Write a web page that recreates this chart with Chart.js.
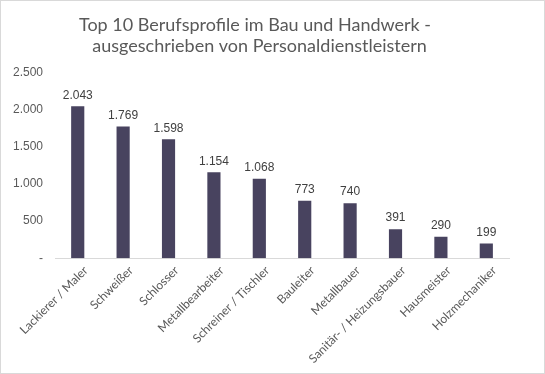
<!DOCTYPE html>
<html>
<head>
<meta charset="utf-8">
<script src="https://cdn.jsdelivr.net/npm/chart.js@4.4.0/dist/chart.umd.min.js"></script>
<style>
  html, body { margin: 0; padding: 0; background: #fff; }
  #wrap { position: relative; width: 543px; height: 372px; border: 1px solid #d9d9d9; }
</style>
</head>
<body>
<div id="wrap"><canvas id="chart"></canvas></div>
<script>
// data
const categories = ["Lackierer / Maler", "Schweißer", "Schlosser", "Metallbearbeiter", "Schreiner / Tischler",
  "Bauleiter", "Metallbauer", "Sanitär- / Heizungsbauer", "Hausmeister", "Holzmechaniker"];
const values = [2043, 1769, 1598, 1154, 1068, 773, 740, 391, 290, 199];
const yTicks = [0, 500, 1000, 1500, 2000, 2500];

function fmt(v) {
  if (v === 0) return "-";
  return String(v).replace(/\B(?=(\d{3})+(?!\d))/g, ".");
}

// value labels above the bars
const barLabels = {
  id: "barLabels",
  afterDatasetsDraw(chart) {
    const ctx = chart.ctx;
    const meta = chart.getDatasetMeta(0);
    ctx.save();
    ctx.font = "12px 'Liberation Sans', Arial, sans-serif";
    ctx.fillStyle = "#404040";
    ctx.textAlign = "center";
    ctx.textBaseline = "bottom";
    meta.data.forEach((bar, i) => {
      ctx.fillText(fmt(values[i]), bar.x, bar.y - 5);
    });
    ctx.restore();
  }
};

new Chart(document.getElementById("chart"), {
  type: "bar",
  data: {
    labels: categories,
    datasets: [{
      data: values,
      backgroundColor: "#48435f",
      categoryPercentage: 1,
      barPercentage: 0.29
    }]
  },
  options: {
    responsive: true,
    maintainAspectRatio: false,
    animation: false,
    layout: { padding: { left: 0, right: 35, top: 0, bottom: 2 } },
    plugins: {
      legend: { display: false },
      tooltip: { enabled: false },
      title: {
        display: true,
        text: ["Top 10 Berufsprofile im Bau und Handwerk -", "  ausgeschrieben von Personaldienstleistern"],
        color: "#595959",
        font: { family: "Lato", size: 18, weight: "normal", lineHeight: 1.2 },
        padding: { top: 13, bottom: 15 }
      }
    },
    scales: {
      x: {
        grid: { display: false, drawTicks: false },
        border: { color: "#d9d9d9" },
        ticks: {
          color: "#595959",
          font: { family: "Lato", size: 12 },
          minRotation: 45,
          maxRotation: 45,
          padding: 5,
          labelOffset: 8,
          autoSkip: false
        }
      },
      y: {
        min: 0,
        max: 2500,
        afterBuildTicks(axis) { axis.ticks = yTicks.map(v => ({ value: v })); },
        grid: { display: false, drawTicks: false },
        border: { display: false },
        ticks: {
          color: "#595959",
          font: { family: "'Liberation Sans', Arial, sans-serif", size: 12 },
          padding: 12,
          callback: v => fmt(v)
        }
      }
    }
  },
  plugins: [barLabels]
});
</script>
</body>
</html>
